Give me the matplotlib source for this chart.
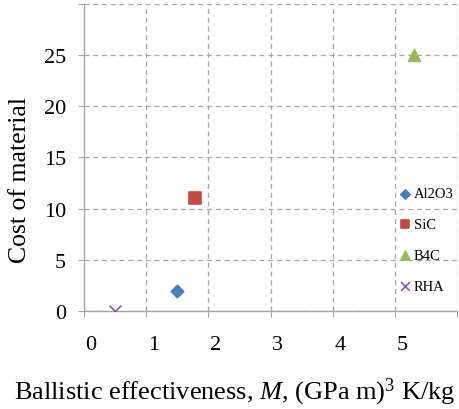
import matplotlib
matplotlib.use("Agg")
import matplotlib.pyplot as plt
import matplotlib.transforms as mtransforms

# Data
materials = ["Al2O3", "SiC", "B4C", "RHA"]
ballistic_eff = [1.5, 1.78, 5.3, 0.5]
cost = [2, 11, 25, 0]

colors = ["#4A7EBB", "#BE4B48", "#98B954", "#7D60A0"]
markers = ["D", "s", "^", "x"]
sizes = [40, 72, 72, 72]

xticks = [0, 1, 2, 3, 4, 5, 6]
yticks = [0, 5, 10, 15, 20, 25, 30]

plt.rcParams["font.family"] = ["Liberation Serif", "DejaVu Serif"]
plt.rcParams["mathtext.fontset"] = "custom"
plt.rcParams["mathtext.rm"] = "Liberation Serif"
plt.rcParams["mathtext.it"] = "Liberation Serif:italic"

fig = plt.figure(figsize=(4.59, 4.10), dpi=100)
ax = fig.add_axes([0.183, 0.239, 0.813, 0.749])

for name, x, y, c, m, s in zip(materials, ballistic_eff, cost, colors, markers, sizes):
    ax.scatter(x, y, color=c, marker=m, s=s, label=name, zorder=3, linewidths=1.2)

ax.set_xlim(0, 6)
ax.set_ylim(0, 30)
ax.set_xticks(xticks)
ax.set_xticklabels([str(t) if t < 6 else "" for t in xticks])
ax.set_yticks(yticks)
ax.set_yticklabels([str(t) if t < 30 else "" for t in yticks])

ax.grid(True, linestyle=(0, (4, 3)), color="#A6A6A6", linewidth=0.9)
ax.set_axisbelow(True)

for side in ["top", "right"]:
    ax.spines[side].set_visible(False)
for side in ["left", "bottom"]:
    ax.spines[side].set_color("#A6A6A6")
    ax.spines[side].set_linewidth(1.0)

ax.tick_params(axis="both", colors="#A6A6A6", labelcolor="black", labelsize=16, length=4)
ax.tick_params(axis="x", pad=13)
ax.tick_params(axis="y", pad=9)

# Excel-style x labels sit slightly right of the gridlines
offset = mtransforms.ScaledTranslation(7 / 100, 0, fig.dpi_scale_trans)
for lbl in ax.get_xticklabels():
    lbl.set_transform(lbl.get_transform() + offset)

ax.set_xlabel("Ballistic effectiveness, $\\mathit{M}$, (GPa m)$^3$ K/kg", fontsize=19)
ax.xaxis.set_label_coords(0.405, -0.212)
ax.set_ylabel("Cost of material", fontsize=18.5)
ax.yaxis.set_label_coords(-0.142, 0.43)

ax.legend(loc="upper left", bbox_to_anchor=(0.845, 0.403), frameon=False, fontsize=10.5,
          handlelength=0.8, handletextpad=0.2, labelspacing=1.2, markerscale=0.75,
          borderpad=0, borderaxespad=0)

fig.savefig("out.png", dpi=100)
